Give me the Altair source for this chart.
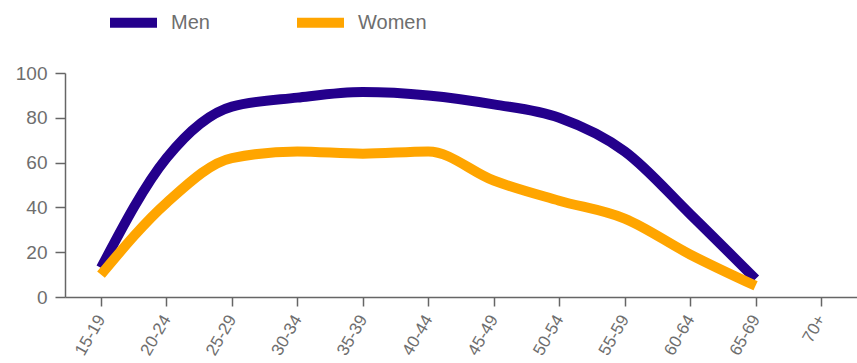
import altair as alt
import pandas as pd

ages = ["15-19", "20-24", "25-29", "30-34", "35-39", "40-44", "45-49",
        "50-54", "55-59", "60-64", "65-69", "70+"]
men = [13, 62, 85, 89, 91.5, 90, 86, 80, 65, 37, 8, None]
women = [10, 42, 62, 65, 64, 65, 52, 43, 35, 19, 5, None]

rows = []
for a, m, w in zip(ages, men, women):
    rows.append({"age": a, "group": "Men", "value": m})
    rows.append({"age": a, "group": "Women", "value": w})
df = pd.DataFrame(rows)

FONT = "Liberation Sans"
GREY = "#6e6e6e"

chart = alt.Chart(df).mark_line(
    strokeWidth=10, interpolate="monotone", strokeCap="butt"
).encode(
    x=alt.X("age:N", sort=ages, title=None,
            scale=alt.Scale(type="point", padding=0.55),
            axis=alt.Axis(labelAngle=-60, labelFontSize=17, labelColor=GREY,
                          labelFont=FONT, tickSize=9, tickColor="#666",
                          domainColor="#666", tickWidth=1.5, domainWidth=1.5,
                          labelPadding=10, grid=False)),
    y=alt.Y("value:Q", title=None,
            scale=alt.Scale(domain=[0, 100], nice=False),
            axis=alt.Axis(values=[0, 20, 40, 60, 80, 100], labelFontSize=19,
                          labelColor=GREY, labelFont=FONT, tickSize=10,
                          tickColor="#666", domainColor="#666", tickWidth=1.5,
                          domainWidth=1.5, labelPadding=8, grid=False)),
    color=alt.Color("group:N",
                    scale=alt.Scale(domain=["Men", "Women"],
                                    range=["#24008c", "#ffa500"]),
                    legend=alt.Legend(orient="none", legendX=40, legendY=-79,
                                      direction="horizontal", title=None,
                                      symbolType="stroke", symbolSize=2209,
                                      symbolStrokeWidth=10, labelFontSize=20,
                                      labelColor=GREY, labelFont=FONT,
                                      labelOffset=9, columnPadding=67)),
).properties(
    width=792, height=224,
    autosize=alt.AutoSizeParams(type="none"),
    padding={"left": 65, "top": 73, "right": 0, "bottom": 66},
).configure_view(stroke=None)

chart.save("out.html", embed_options={"renderer": "svg", "actions": False})
